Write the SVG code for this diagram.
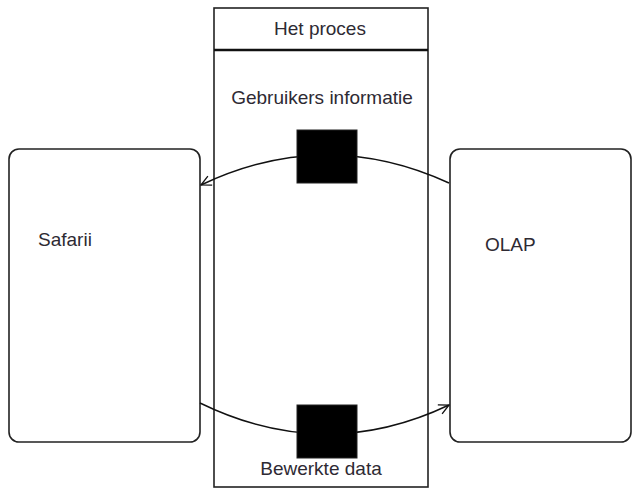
<svg xmlns="http://www.w3.org/2000/svg" width="632" height="489" viewBox="0 0 632 489">
<style>
.box{fill:#fff;stroke:#222;stroke-width:1.6}
.lbl{font-family:"Liberation Sans",Arial,sans-serif;font-size:19px;fill:#2e2a33}
.conn{fill:none;stroke:#111;stroke-width:1.4}
.blk{fill:#000;stroke:#222;stroke-width:1}
</style>
<defs>
<marker id="arr" viewBox="0 0 12 12" refX="11" refY="6" markerWidth="12" markerHeight="12" markerUnits="userSpaceOnUse" orient="auto">
<path d="M1,1 L11,6 L1,11" fill="none" stroke="#111" stroke-width="1.3"/>
</marker>
</defs>
<rect width="632" height="489" fill="#fff"/>
<g id="proces">
<rect class="box" x="214" y="8" width="214" height="479"/>
<line x1="214" y1="50" x2="428" y2="50" stroke="#111" stroke-width="2.4"/>
<text class="lbl" x="320" y="35" text-anchor="middle">Het proces</text>
</g>
<g id="safarii">
<rect class="box" x="9" y="149" width="191" height="293" rx="10"/>
<text class="lbl" x="38" y="246">Safarii</text>
</g>
<g id="olap">
<rect class="box" x="450" y="149" width="181" height="293" rx="10"/>
<text class="lbl" x="485" y="251">OLAP</text>
</g>
<g id="connectors">
<path class="conn" d="M449,183 Q325,126 201,185" marker-end="url(#arr)"/>
<path class="conn" d="M200,403 Q325,464 449,405" marker-end="url(#arr)"/>
</g>
<g id="gebruikers-informatie">
<rect class="blk" x="297" y="130" width="60" height="53"/>
<text class="lbl" x="322" y="104" text-anchor="middle">Gebruikers informatie</text>
</g>
<g id="bewerkte-data">
<rect class="blk" x="297" y="405" width="60" height="53"/>
<text class="lbl" x="321" y="475" text-anchor="middle">Bewerkte data</text>
</g>
</svg>
